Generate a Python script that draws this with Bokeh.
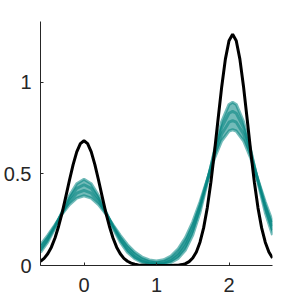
from bokeh.plotting import figure
from bokeh.models import Range1d, FixedTicker
from bokeh.embed import file_html
from bokeh.resources import INLINE
import numpy as np

# True density (black curve)
x_true = [-0.60, -0.55, -0.50, -0.45, -0.40, -0.35, -0.30, -0.25, -0.20, -0.15,
          -0.10, -0.05, 0.00, 0.05, 0.10, 0.15, 0.20, 0.25, 0.30, 0.35,
          0.40, 0.45, 0.50, 0.55, 0.60, 0.65, 0.70, 0.75, 0.80, 0.85,
          0.90, 0.95, 1.00, 1.05, 1.10, 1.15, 1.20, 1.25, 1.30, 1.35,
          1.40, 1.45, 1.50, 1.55, 1.60, 1.65, 1.70, 1.75, 1.80, 1.85,
          1.90, 1.95, 2.00, 2.05, 2.10, 2.15, 2.20, 2.25, 2.30, 2.35,
          2.40, 2.45, 2.50, 2.55, 2.60]
y_true = [0.023, 0.039, 0.064, 0.100, 0.150, 0.214, 0.290, 0.377, 0.466, 0.550,
          0.619, 0.664, 0.680, 0.664, 0.619, 0.550, 0.466, 0.377, 0.290, 0.214,
          0.150, 0.100, 0.064, 0.039, 0.023, 0.013, 0.007, 0.003, 0.002, 0.001,
          0.000, 0.000, 0.000, 0.000, 0.000, 0.000, 0.000, 0.001, 0.002, 0.005,
          0.010, 0.021, 0.041, 0.074, 0.127, 0.205, 0.314, 0.454, 0.620, 0.800,
          0.976, 1.125, 1.225, 1.260, 1.225, 1.125, 0.976, 0.800, 0.620, 0.454,
          0.314, 0.205, 0.127, 0.074, 0.041]

# Estimated densities (teal ensemble, representative curves)
x_est = [-0.6, -0.5, -0.4, -0.3, -0.2, -0.1, 0.0, 0.1, 0.2, 0.3,
         0.4, 0.5, 0.6, 0.7, 0.8, 0.9, 1.0, 1.1, 1.2, 1.3,
         1.4, 1.5, 1.6, 1.7, 1.8, 1.9, 2.0, 2.05, 2.1, 2.2,
         2.3, 2.4, 2.5, 2.6]
est_1 = [0.072, 0.128, 0.204, 0.294, 0.382, 0.446, 0.470, 0.446, 0.382, 0.294,
         0.204, 0.128, 0.072, 0.037, 0.017, 0.008, 0.005, 0.007, 0.016, 0.039,
         0.085, 0.166, 0.289, 0.451, 0.629, 0.785, 0.878, 0.890, 0.878, 0.785,
         0.629, 0.451, 0.289, 0.166]
est_2 = [0.084, 0.140, 0.211, 0.291, 0.366, 0.420, 0.440, 0.420, 0.366, 0.291,
         0.211, 0.140, 0.084, 0.046, 0.023, 0.012, 0.008, 0.012, 0.026, 0.054,
         0.107, 0.192, 0.313, 0.462, 0.619, 0.753, 0.830, 0.840, 0.830, 0.753,
         0.619, 0.462, 0.313, 0.192]
est_3 = [0.098, 0.152, 0.217, 0.287, 0.350, 0.394, 0.410, 0.394, 0.350, 0.287,
         0.217, 0.152, 0.098, 0.059, 0.033, 0.019, 0.014, 0.019, 0.036, 0.069,
         0.127, 0.214, 0.329, 0.465, 0.603, 0.717, 0.781, 0.790, 0.781, 0.717,
         0.603, 0.465, 0.329, 0.214]
est_4 = [0.113, 0.164, 0.222, 0.281, 0.332, 0.367, 0.380, 0.367, 0.332, 0.281,
         0.222, 0.164, 0.113, 0.073, 0.046, 0.030, 0.025, 0.031, 0.052, 0.091,
         0.152, 0.238, 0.346, 0.467, 0.585, 0.680, 0.733, 0.740, 0.733, 0.680,
         0.585, 0.467, 0.346, 0.238]

x_ticks = [0, 1, 2]
y_ticks = [0, 0.5, 1]
y_tick_labels = {0: "0", 0.5: "0.5", 1: "1"}

TEAL = "#008480"
INK = "#262626"
FONT = "Liberation Sans"

p = figure(width=300, height=300, output_backend="svg", toolbar_location=None,
           x_range=Range1d(-0.6, 2.6), y_range=Range1d(0, 1.33),
           min_border_left=39, min_border_right=28,
           min_border_top=21, min_border_bottom=35)
p.outline_line_color = None
p.grid.visible = False
p.background_fill_color = "white"
p.border_fill_color = "white"

curves = [est_1, est_2, est_3, est_4]
arr = np.array(curves)
p.varea(x=x_est, y1=arr.min(axis=0), y2=arr.max(axis=0),
        fill_color=TEAL, fill_alpha=0.55)
for c in curves:
    p.line(x_est, c, line_color=TEAL, line_width=3, line_alpha=0.55)

p.line(x_true, y_true, line_color="black", line_width=3)

for ax in (p.xaxis[0], p.yaxis[0]):
    ax.axis_line_color = INK
    ax.axis_line_width = 1
    ax.major_tick_line_color = INK
    ax.major_tick_in = 3
    ax.major_tick_out = 0
    ax.minor_tick_line_color = None
    ax.major_label_text_color = INK
    ax.major_label_text_font = FONT
    ax.major_label_text_font_size = "20px"

p.xaxis[0].ticker = FixedTicker(ticks=x_ticks)
p.yaxis[0].ticker = FixedTicker(ticks=y_ticks)
p.yaxis[0].major_label_overrides = y_tick_labels
p.xaxis[0].major_label_standoff = 12
p.yaxis[0].major_label_standoff = 9

open("out.html", "w").write(file_html(p, INLINE))
